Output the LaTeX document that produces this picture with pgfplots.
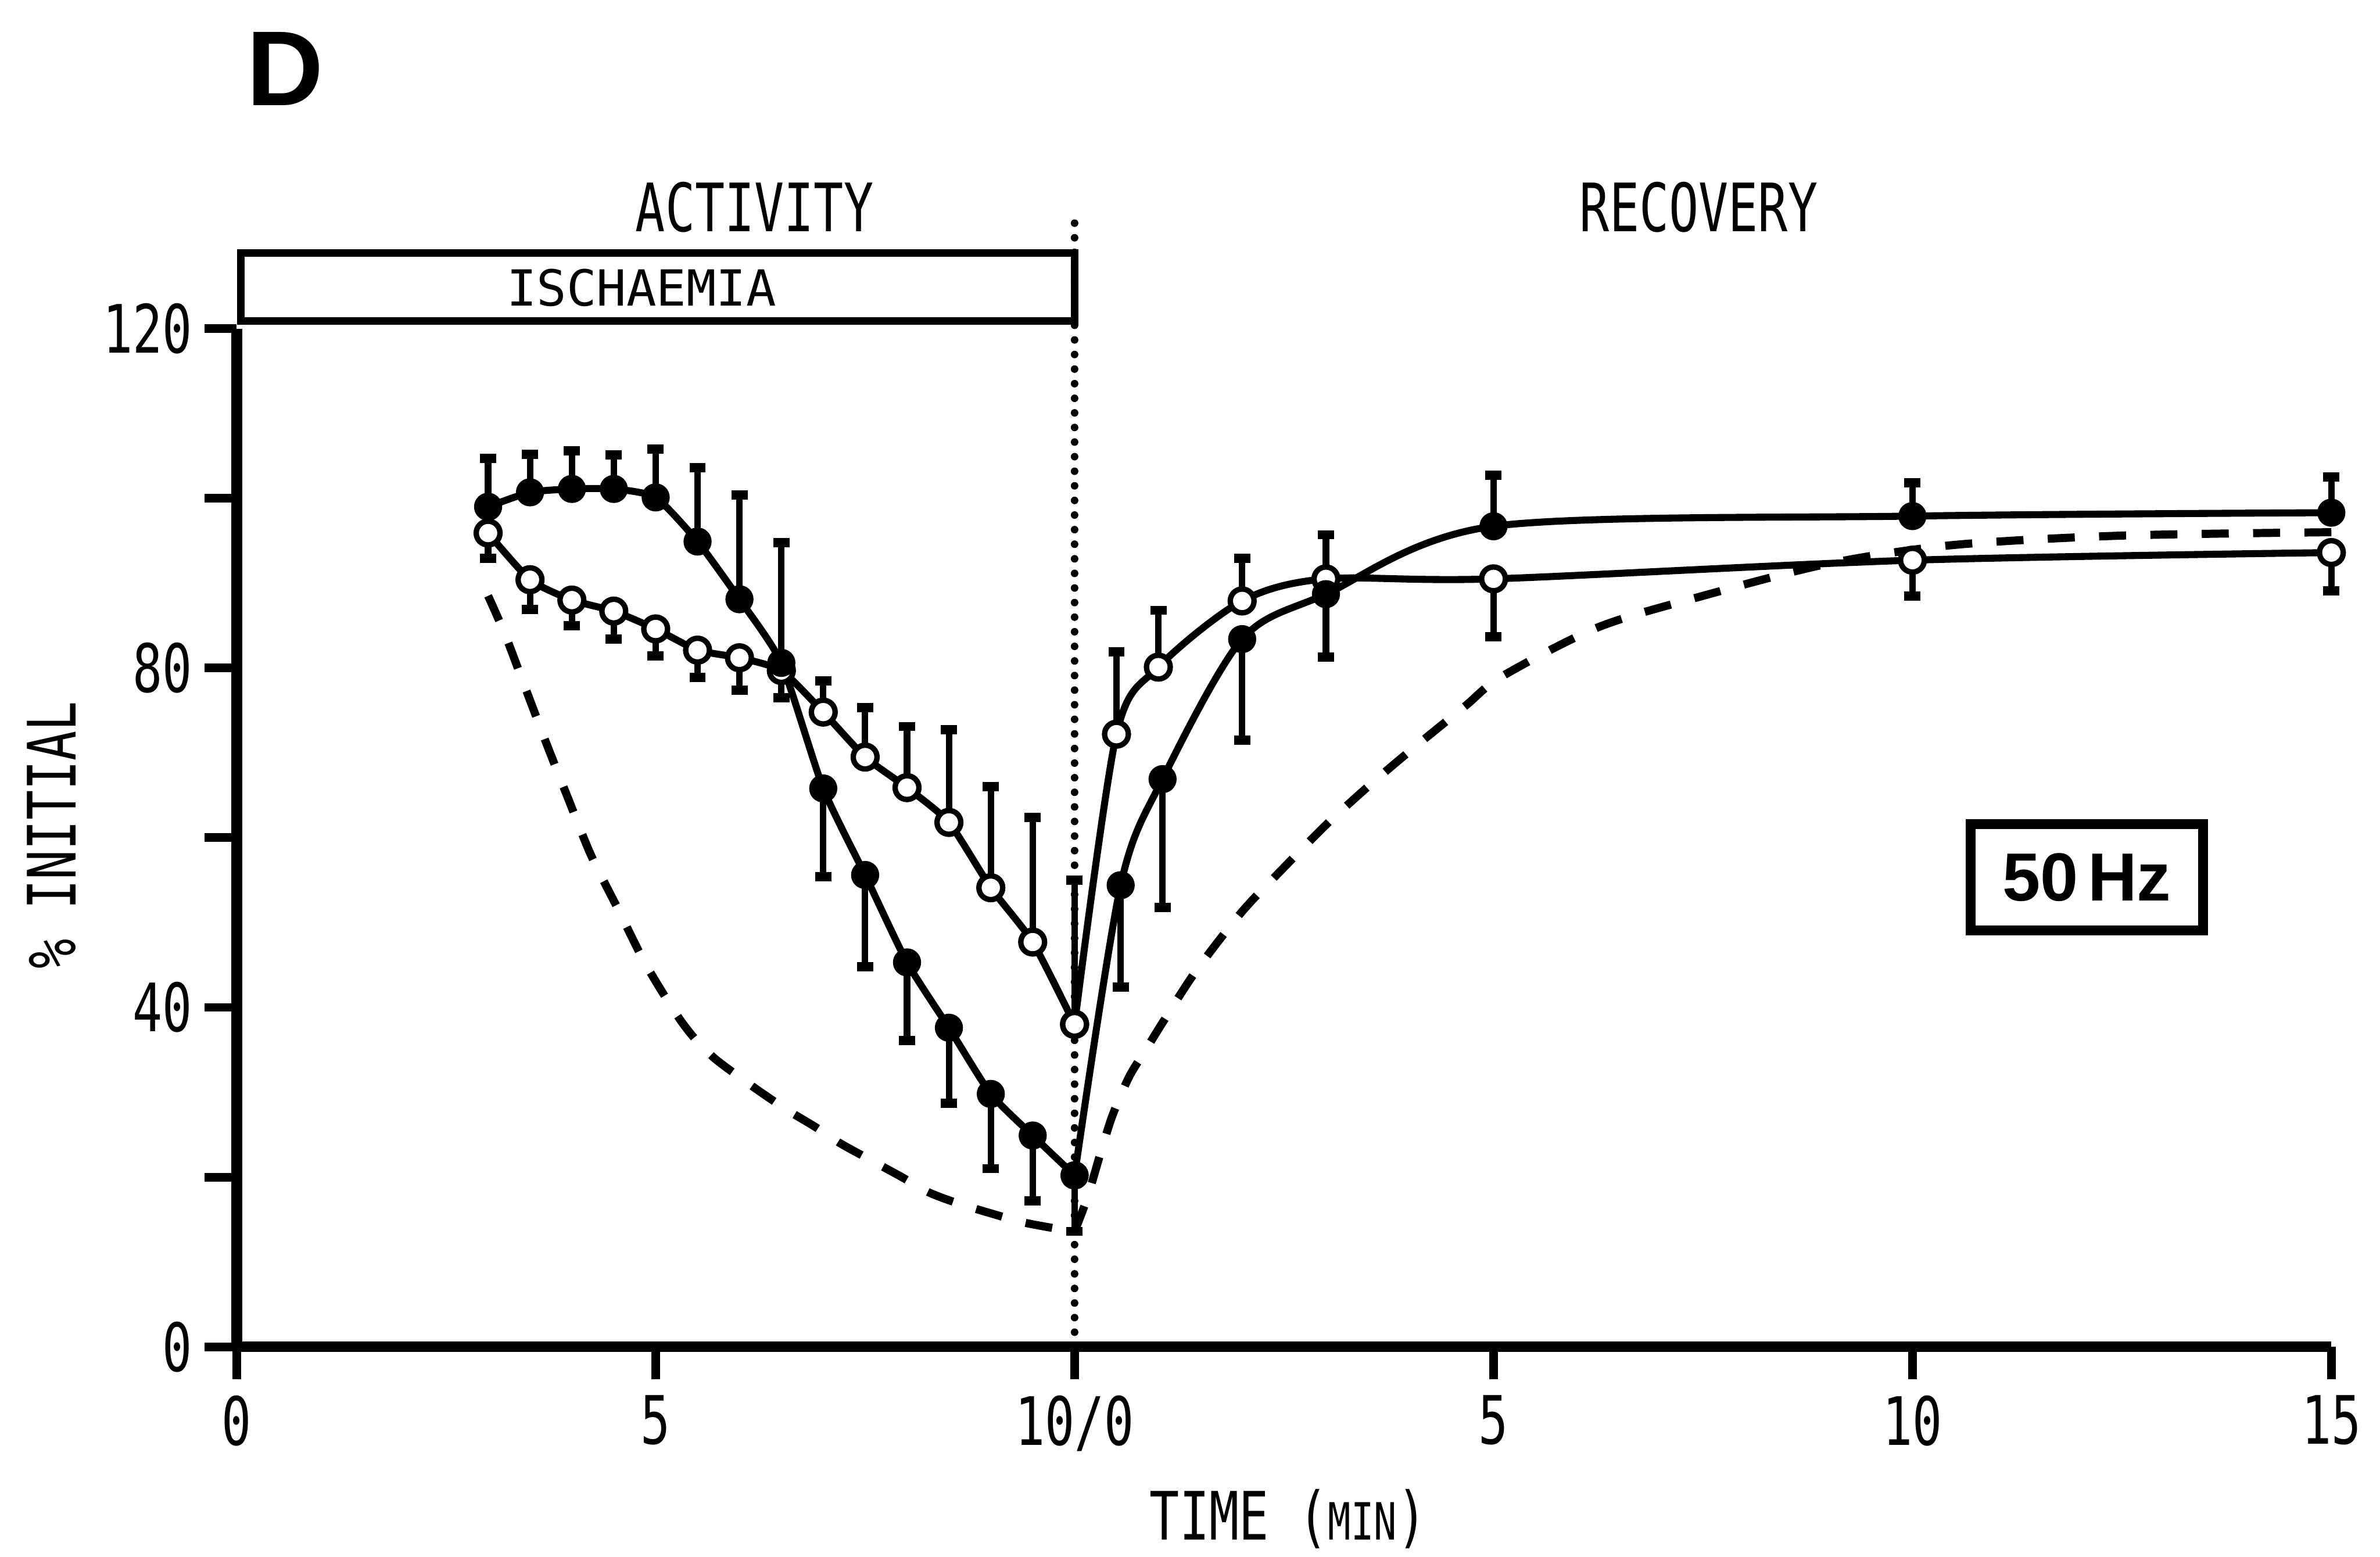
\documentclass[border=0pt]{standalone}
\usepackage{pgfplots}
\pgfplotsset{compat=1.18}
\usepackage{pgfplotstable}
\usepackage{fontspec}
\newfontfamily\lab[FakeStretch=0.74]{DejaVu Sans Mono}
\newfontfamily\labwide{DejaVu Sans Mono}
\newfontfamily\heavy{Liberation Sans}
\newcommand\ticklab{\lab\fontsize{12.35}{14}\selectfont}

% columns: time, mean, upper error, lower error
\pgfplotstableread{
x y ep em
3.0 99.0 5.7 0
3.5 100.7 4.5 0
4.0 101.1 4.5 0
4.5 101.1 4.0 0
5.0 100.1 5.7 0
5.5 94.9 8.7 0
6.0 88.1 12.3 0
6.5 80.6 14.2 0
7.0 65.8 0 10.4
7.5 55.6 0 10.8
8.0 45.3 0 9.2
8.5 37.6 0 8.9
9.0 29.8 0 8.8
9.5 24.9 0 7.7
10.0 20.2 0 6.6
}\fillAct

\pgfplotstableread{
x y ep em
3.0 95.9 0 3.0
3.5 90.4 0 3.5
4.0 88.0 0 3.0
4.5 86.7 0 3.3
5.0 84.6 0 3.2
5.5 82.1 0 3.2
6.0 81.2 0 3.8
6.5 79.7 0 3.2
7.0 74.8 3.7 0
7.5 69.5 5.8 0
8.0 65.9 7.2 0
8.5 61.8 10.9 0
9.0 54.1 11.9 0
9.5 47.7 14.7 0
10.0 38.0 17.0 0
}\openAct

% recovery: x = 10 + minutes after reperfusion
\pgfplotstableread{
x y ep em
10.0 20.2 0 0
10.55 54.4 0 12.0
11.05 66.9 0 15.1
12.0 83.4 0 11.9
13.0 88.7 0 7.4
15.0 96.7 6.0 0
20.0 97.9 3.9 0
25.0 98.3 4.2 0
}\fillRec

\pgfplotstableread{
x y ep em
10.0 38.0 0 0
10.5 72.2 9.7 0
11.0 80.1 6.7 0
12.0 87.9 5.0 0
13.0 90.5 5.2 0
15.0 90.5 0 6.8
20.0 92.7 0 4.2
25.0 93.6 0 4.5
}\openRec

\pgfplotsset{
  sembars/.style={draw=none, mark=none, forget plot,
    error bars/.cd, y dir=both, y explicit, error mark=|,
    error bar style={draw=black, solid, line width=1.2pt},
    error mark options={draw=black, solid, line width=1.7pt, mark size=1.5pt}},
}

\begin{document}
\begin{tikzpicture}
\begin{axis}[
  x=15.5pt, y=1.57pt,
  xmin=0, xmax=25, ymin=0, ymax=120,
  enlargelimits=false,
  axis x line=bottom, axis y line=left,
  axis line style={-, line width=2pt},
  xtick={0,5,10,15,20,25}, xticklabels={0,5,10/0,5,10,15},
  ytick={0,20,40,60,80,100,120}, yticklabels={0,,40,,80,,120},
  minor tick num=0,
  tick align=outside, major tick length=6pt,
  tick style={black, line width=1.6pt},
  tick label style={font=\ticklab},
  xticklabel style={anchor=north, inner sep=0pt},
  yticklabel style={anchor=east, inner sep=0pt},
  xticklabel shift=2.8pt, yticklabel shift=2pt,
  clip=false,
]
\coordinate (O) at (axis cs:0,0);

% boundary between ischaemia and recovery
\addplot[line width=1.4pt, dash pattern=on 0pt off 2.7pt, line cap=round]
  coordinates {(10,0) (10,132.5)};

% error bars
\addplot[sembars] table[x=x, y=y, y error plus=ep, y error minus=em] {\fillAct};
\addplot[sembars] table[x=x, y=y, y error plus=ep, y error minus=em] {\openAct};
\addplot[sembars] table[x=x, y=y, y error plus=ep, y error minus=em] {\fillRec};
\addplot[sembars] table[x=x, y=y, y error plus=ep, y error minus=em] {\openRec};

% dashed reference curve
\addplot[black, line width=1.5pt, dash pattern=on 5pt off 4.5pt, smooth, tension=0.5]
  coordinates {(3.0,88.5) (3.2,84.0) (3.45,77.5) (3.7,71.0) (3.96,64.5) (4.23,57.9)
  (4.55,51.6) (4.88,45.1) (5.24,39.3) (5.46,36.4) (5.69,34.1) (5.97,32.0) (6.27,29.9)
  (6.57,27.9) (6.89,26.0) (7.2,24.0) (7.53,22.2) (7.92,20.1) (8.26,18.2) (8.61,16.9)
  (9.01,15.7) (9.37,14.7) (9.74,14.0) (10.0,13.6)};
\addplot[black, line width=1.5pt, dash pattern=on 5pt off 4.5pt, smooth, tension=0.5]
  coordinates {(10.0,13.6) (10.15,17.5) (10.3,22.5) (10.45,27.2) (10.65,31.8) (10.85,35.0)
  (11.05,38.2) (11.45,44.3) (12.0,51.3) (12.5,56.5) (13.0,61.5) (13.5,66.0) (14.0,70.2)
  (14.66,75.5) (15.1,79.0) (16.25,84.8) (17.5,88.5) (19.0,92.3) (20.5,94.5) (22.5,95.6)
  (25.0,96.0)};

% solid curves
\addplot[black, line width=1.3pt, smooth, tension=0.35] table[x=x, y=y] {\openAct};
\addplot[black, line width=1.3pt, smooth, tension=0.5] table[x=x, y=y] {\openRec};
\addplot[black, line width=1.3pt, smooth, tension=0.35] table[x=x, y=y] {\fillAct};
\addplot[black, line width=1.3pt, smooth, tension=0.5] table[x=x, y=y] {\fillRec};

% markers
\addplot[only marks, mark=*, mark size=2.2pt, mark options={fill=white, draw=black, line width=1pt}]
  table[x=x, y=y] {\openAct};
\addplot[only marks, mark=*, mark size=2.2pt, mark options={fill=white, draw=black, line width=1pt}]
  table[x=x, y=y] {\openRec};
\addplot[only marks, mark=*, mark size=2.4pt, mark options={fill=black, draw=black}]
  table[x=x, y=y] {\fillAct};
\addplot[only marks, mark=*, mark size=2.4pt, mark options={fill=black, draw=black}]
  table[x=x, y=y] {\fillRec};

% annotations
\draw[line width=1.4pt] (axis cs:0.05,120.9) rectangle (axis cs:10,128.9);
\node[font=\labwide\fontsize{9.2}{11}\selectfont] at (axis cs:4.83,124.8) {ISCHAEMIA};
\node[font=\ticklab] at (axis cs:6.18,134.3) {ACTIVITY};
\node[font=\ticklab] at (axis cs:17.45,134.3) {RECOVERY};
\node[font=\heavy\bfseries\fontsize{19.7}{22}\selectfont] at (axis cs:0.574,150.6) {D};
\node[draw, line width=1.8pt, minimum width=43pt, minimum height=19.7pt, inner sep=0pt,
  font=\heavy\bfseries\fontsize{12.6}{14}\selectfont] at (axis cs:22.08,55.35) {50\hspace{1.8pt}Hz};
\node[font=\ticklab] at (axis cs:12.55,-20.3) {TIME ({\fontsize{9.5}{11}\selectfont MIN})};
\node[font=\ticklab, rotate=90] at (axis cs:-2.213,60.3) {\% INITIAL};
\end{axis}
\pgfresetboundingbox
\path ([shift={(-43.8pt,-38.8pt)}]O) rectangle ([shift={(396.5pt,249.2pt)}]O);
\end{tikzpicture}
\end{document}
